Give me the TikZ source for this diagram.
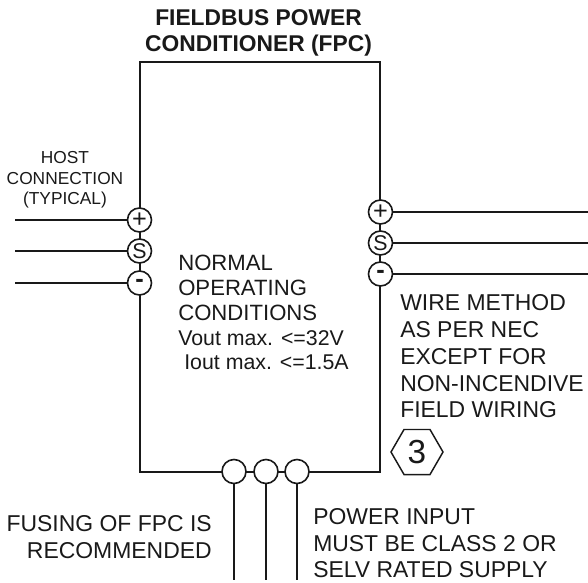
\documentclass[tikz,border=0pt]{standalone}
\usepackage{fontspec}
\setmainfont{Liberation Sans}
\usetikzlibrary{shapes.geometric}
\tikzset{
  wire/.style={line width=1.4pt, color=black!90},
  fpcbox/.style={draw=black!90, line width=1.4pt, minimum width=180.4pt, minimum height=307.3pt, inner sep=0pt},
  terminal/.style={circle, draw=black!90, fill=white, text=black!90, line width=1.2pt, minimum size=18pt, inner sep=0pt, font=\fontsize{16}{16}\selectfont},
  signterm/.style={terminal, font=\fontsize{19}{19}\selectfont},
  label/.style={inner sep=0pt, text=black!90, font=\fontsize{17.2}{20.1}\selectfont},
  hostlabel/.style={inner sep=0pt, text=black!90, font=\fontsize{13}{15.2}\selectfont},
  notehex/.style={regular polygon, regular polygon sides=6, draw=black!90, text=black!90, line width=1.1pt, minimum size=39pt, inner sep=0pt, font=\fontsize{25}{25}\selectfont}
}
\begin{document}
\begin{tikzpicture}[x=0.75pt, y=-0.75pt]
	\useasboundingbox (0, 0) rectangle (588, 582);
	%%%%% box %%%%%
	\node[fpcbox] (fpc) at (260, 267) {};
	\node[label, font=\bfseries\fontsize{17.1}{19.6}\selectfont, align=center] (title) at (258.5, 33.2) {FIELDBUS POWER\\CONDITIONER (FPC)};
	\node[label, font=\fontsize{16.6}{18.9}\selectfont, align=left, anchor=north west] (normal) at (178, 254.5) {NORMAL\\OPERATING\\CONDITIONS};
	\node[label, font=\fontsize{16}{20}\selectfont, anchor=west] (vout) at (178, 338) {Vout max. <=32V};
	\node[label, font=\fontsize{16}{20}\selectfont, anchor=west] (iout) at (184, 362) {Iout max. <=1.5A};

	%%%%% host side %%%%%
	\node[hostlabel, align=center] (host) at (65, 180) {HOST\\CONNECTION\\(TYPICAL)};
	\node[signterm] (hplus) at (139.5, 220) {+};
	\node[terminal] (hsig) at (139.5, 251) {S};
	\node[signterm] (hminus) at (139.5, 283) {\raisebox{-0.11em}{\textbf{-}}};
	\coordinate (hplusend) at (15, 220);
	\coordinate (hsigend) at (15, 251);
	\coordinate (hminusend) at (15, 283);
	\draw[wire] (hplusend) -- (hplus);
	\draw[wire] (hsigend) -- (hsig);
	\draw[wire] (hminusend) -- (hminus);

	%%%%% field side %%%%%
	\node[signterm] (fplus) at (380.5, 212) {+};
	\node[terminal] (fsig) at (380.5, 243) {S};
	\node[signterm] (fminus) at (380.5, 274) {\raisebox{-0.11em}{\textbf{-}}};
	\coordinate (fplusend) at (588, 212);
	\coordinate (fsigend) at (588, 243);
	\coordinate (fminusend) at (588, 274);
	\draw[wire] (fplus) -- (fplusend);
	\draw[wire] (fsig) -- (fsigend);
	\draw[wire] (fminus) -- (fminusend);
	\node[label, align=left, anchor=north west] (method) at (400, 294.5) {WIRE METHOD\\AS PER NEC\\EXCEPT FOR\\NON-INCENDIVE\\FIELD WIRING};
	\node[notehex] (three) at (417, 452) {3};

	%%%%% power input %%%%%
	\node[terminal] (pa) at (234, 471.5) {};
	\node[terminal] (pb) at (266, 471.5) {};
	\node[terminal] (pc) at (297, 471.5) {};
	\coordinate (paend) at (234, 580);
	\coordinate (pbend) at (266, 580);
	\coordinate (pcend) at (297, 580);
	\draw[wire] (pa) -- (paend);
	\draw[wire] (pb) -- (pbend);
	\draw[wire] (pc) -- (pcend);
	\node[label, align=right, anchor=north east] (fusing) at (212, 515.5) {FUSING OF FPC IS\\RECOMMENDED};
	\node[label, align=left, anchor=north west] (input) at (313, 508) {POWER INPUT\\MUST BE CLASS 2 OR\\SELV RATED SUPPLY};
\end{tikzpicture}
\end{document}
